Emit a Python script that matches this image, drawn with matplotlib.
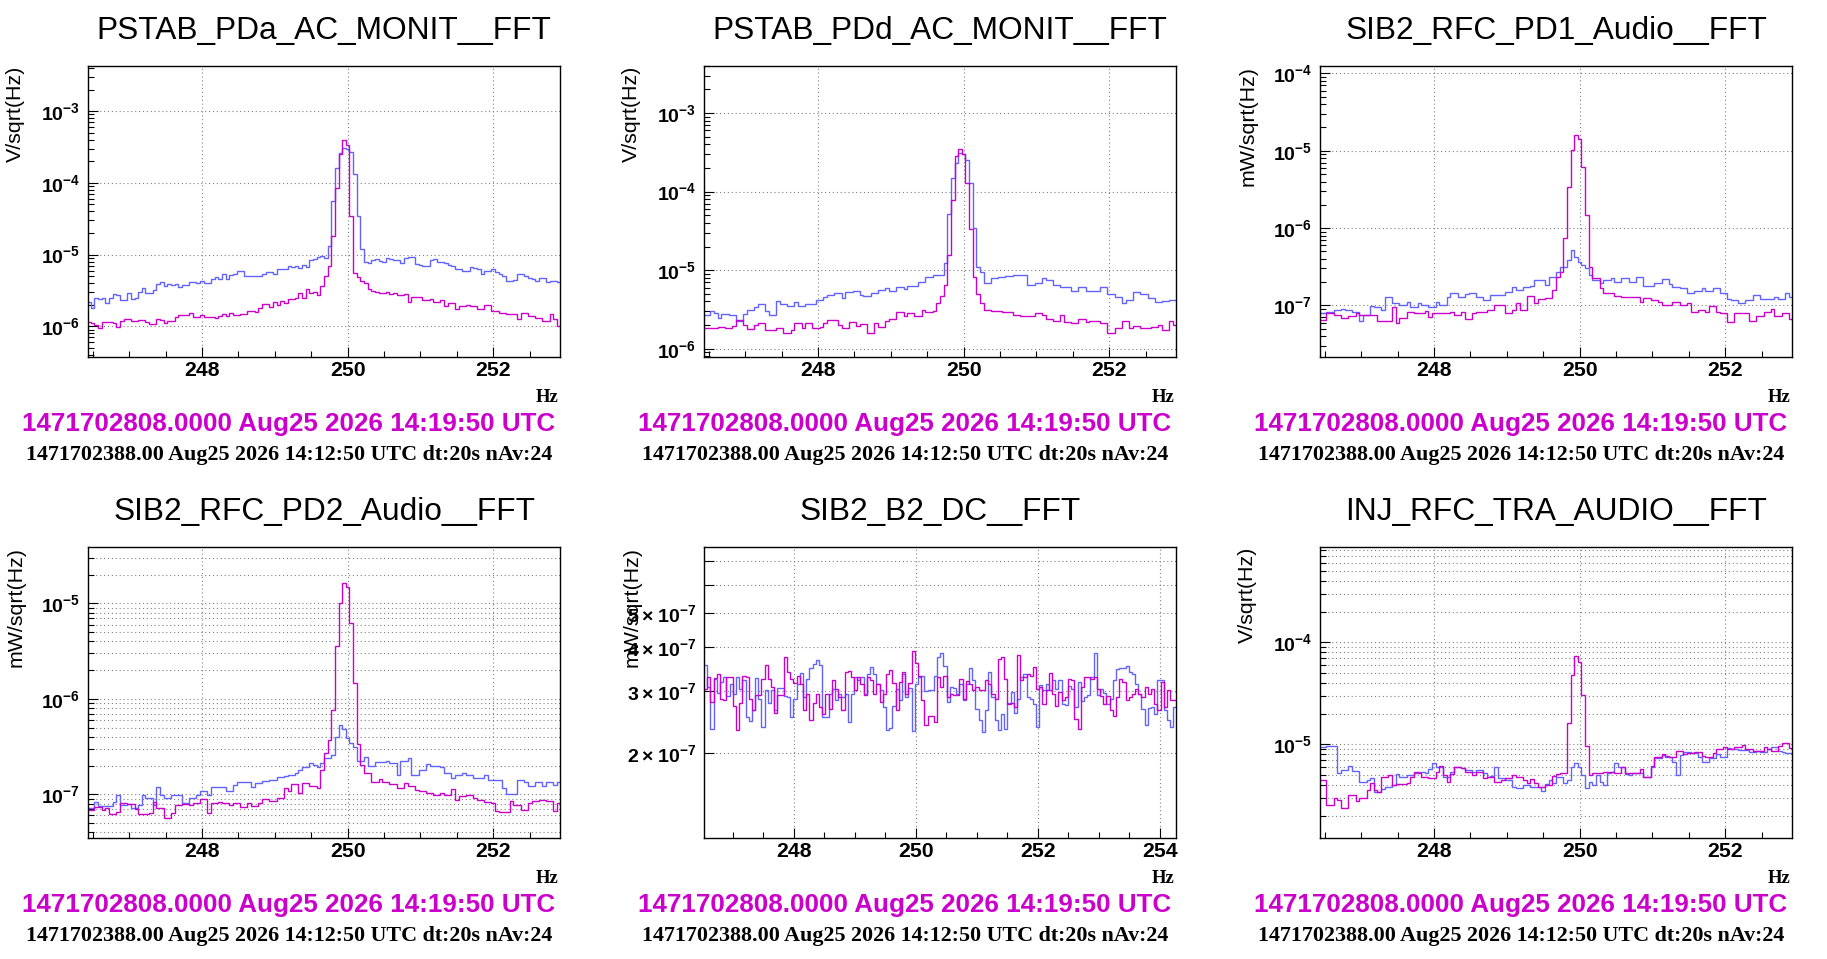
import numpy as np
import matplotlib
matplotlib.use("Agg")
import matplotlib.pyplot as plt
from matplotlib import ticker

plt.rcParams["font.family"] = ["Liberation Sans", "DejaVu Sans"]
plt.rcParams["font.weight"] = "bold"      # tick labels are bold in the reference
plt.rcParams["axes.unicode_minus"] = True

# ---------------------------------------------------------------------------
# data: one value per 0.05 Hz bin
# blue = reference spectrum, magenta = current spectrum
# ---------------------------------------------------------------------------
# PSTAB_PDa_AC_MONIT  (x 1e-6 V/sqrt(Hz))
pda_blue = [
    2.2, 1.8, 2.5, 2.4, 2.5, 2.1, 2.5, 2.8, 2.7, 2.3,
    2.3, 2.9, 2.4, 2.5, 3.0, 3.4, 2.9, 2.9, 3.2, 3.9,
    4.2, 3.7, 3.9, 3.8, 3.9, 3.5, 3.8, 3.8, 4.1, 4.1,
    4.0, 4.3, 4.0, 4.0, 4.6, 4.9, 4.6, 5.3, 4.5, 5.2,
    5.4, 5.9, 5.9, 5.0, 5.0, 5.1, 5.1, 5.1, 5.4, 5.7,
    5.7, 5.4, 6.2, 6.4, 6.3, 6.9, 6.7, 7.0, 6.6, 7.2,
    6.8, 8.5, 8.8, 9.2, 9.5, 9.0, 13, 55, 160, 260,
    310, 300, 270, 135, 35, 12, 8.0, 7.6, 8.5, 8.6,
    8.2, 8.0, 9.0, 8.8, 8.5, 8.4, 7.6, 9.0, 9.2, 9.4,
    7.4, 7.2, 7.0, 7.0, 8.5, 8.6, 8.0, 7.8, 7.6, 7.2,
    6.9, 6.4, 6.2, 6.0, 6.0, 6.8, 6.6, 6.3, 5.3, 5.9,
    5.9, 6.2, 5.8, 5.3, 5.0, 4.3, 4.3, 4.4, 5.3, 5.3,
    5.1, 4.7, 4.6, 4.3, 4.7, 4.7, 4.1, 4.3, 4.3, 4.2,
]
pda_mag = [
    1.15, 1.1, 1.05, 0.95, 1.15, 1.15, 1.15, 1.1, 0.98, 1.2,
    1.25, 1.27, 1.2, 1.2, 1.23, 1.23, 1.16, 1.08, 1.08, 1.27,
    1.23, 1.12, 1.2, 1.2, 1.37, 1.44, 1.44, 1.44, 1.52, 1.35,
    1.35, 1.43, 1.33, 1.33, 1.35, 1.3, 1.39, 1.48, 1.41, 1.52,
    1.44, 1.44, 1.48, 1.5, 1.62, 1.62, 1.58, 1.78, 2.05, 2.05,
    1.87, 2.2, 2.0, 2.25, 2.1, 2.4, 2.4, 2.5, 2.9, 2.5,
    3.3, 2.9, 3.0, 2.7, 3.6, 5.0, 7.0, 18, 85, 250,
    390, 340, 35, 5.5, 4.9, 4.3, 4.0, 3.3, 3.1, 3.0,
    2.9, 2.9, 3.0, 2.8, 2.9, 2.75, 2.75, 2.8, 2.2, 2.6,
    2.6, 2.6, 2.3, 2.3, 2.4, 2.2, 2.2, 2.3, 1.9, 2.1,
    2.1, 1.75, 1.95, 1.95, 2.0, 1.9, 1.9, 1.75, 1.75, 2.0,
    2.0, 1.65, 1.65, 1.55, 1.55, 1.5, 1.5, 1.5, 1.25, 1.55,
    1.55, 1.4, 1.4, 1.3, 1.3, 1.2, 1.2, 1.5, 1.25, 1.0,
]

# PSTAB_PDd_AC_MONIT  (x 1e-6 V/sqrt(Hz))
pdd_blue = [
    2.7, 2.7, 3.05, 2.85, 2.45, 2.8, 2.8, 2.7, 2.7, 2.25,
    2.25, 2.8, 3.1, 3.1, 3.4, 3.7, 3.7, 3.0, 2.7, 2.7,
    4.0, 3.7, 3.7, 3.5, 3.5, 3.9, 3.5, 3.5, 3.7, 3.7,
    3.7, 4.2, 4.2, 4.5, 4.9, 4.9, 5.1, 5.1, 4.4, 5.3,
    5.3, 5.5, 5.5, 4.9, 4.7, 4.7, 5.2, 5.2, 5.6, 5.6,
    5.9, 5.5, 5.5, 6.1, 6.1, 5.85, 6.3, 6.3, 6.3, 7.0,
    7.0, 8.3, 8.3, 8.7, 8.7, 8.7, 12.3, 52, 150, 230,
    310, 300, 250, 130, 34, 11, 9.6, 6.8, 6.8, 7.9,
    7.9, 8.3, 8.3, 8.4, 8.4, 8.6, 8.6, 8.6, 8.6, 6.5,
    6.5, 6.8, 6.8, 7.9, 7.5, 7.5, 6.5, 6.5, 6.1, 6.1,
    6.1, 5.4, 5.4, 6.2, 6.2, 5.45, 5.45, 5.45, 5.45, 6.1,
    6.1, 5.0, 5.0, 4.6, 4.6, 3.8, 4.2, 4.2, 5.3, 5.3,
    5.0, 5.0, 4.4, 4.4, 3.9, 3.9, 4.0, 4.0, 4.2, 4.2,
]
pdd_mag = [
    1.83, 1.83, 1.83, 1.83, 1.88, 1.88, 1.83, 1.83, 1.96, 2.3,
    2.3, 2.0, 1.78, 1.78, 2.0, 2.15, 2.15, 1.75, 1.75, 1.75,
    1.83, 1.83, 1.58, 1.6, 1.74, 2.15, 2.15, 1.83, 2.1, 2.1,
    1.83, 1.83, 1.92, 2.1, 2.3, 2.3, 2.3, 2.0, 1.83, 1.83,
    2.2, 2.2, 1.96, 2.06, 2.06, 1.61, 1.61, 2.16, 1.88, 1.88,
    2.29, 2.38, 2.38, 2.98, 2.98, 2.63, 2.84, 2.84, 2.58, 2.58,
    3.13, 2.98, 2.98, 3.07, 3.88, 4.7, 6.5, 15.7, 78, 280,
    350, 300, 130, 33, 8.3, 5.0, 3.8, 3.1, 3.1, 3.07,
    3.07, 3.07, 2.98, 2.98, 2.98, 2.7, 2.7, 2.58, 2.58, 2.58,
    2.58, 2.84, 2.84, 2.7, 2.38, 2.38, 2.29, 2.29, 2.7, 2.22,
    2.22, 2.16, 2.16, 2.38, 2.38, 2.22, 2.29, 2.29, 2.29, 2.16,
    2.16, 1.58, 1.58, 1.83, 1.83, 2.29, 2.29, 1.83, 1.96, 1.96,
    1.83, 1.83, 1.83, 1.88, 1.88, 2.02, 1.74, 1.74, 2.29, 2.0,
]

# SIB2_RFC_PD1_Audio  (x 1e-7 mW/sqrt(Hz))
pd1_blue = [
    0.79, 0.79, 0.83, 0.83, 0.87, 0.87, 0.91, 0.87, 0.87, 0.83,
    0.83, 0.63, 0.75, 0.75, 0.98, 0.94, 0.94, 0.87, 1.29, 1.29,
    1.08, 1.08, 1.01, 1.01, 1.12, 0.96, 0.96, 1.06, 1.01, 1.01,
    0.94, 0.94, 1.12, 1.01, 1.01, 1.27, 1.46, 1.46, 1.29, 1.29,
    1.4, 1.43, 1.43, 1.29, 1.29, 1.17, 1.17, 1.36, 1.36, 1.36,
    1.36, 1.5, 1.5, 1.71, 1.58, 1.58, 1.71, 1.71, 1.78, 2.13,
    2.13, 2.13, 1.83, 2.35, 2.35, 2.72, 3.16, 3.16, 3.85, 5.2,
    4.26, 3.67, 3.3, 3.0, 2.47, 2.13, 2.13, 1.92, 2.13, 2.13,
    2.23, 2.02, 2.02, 2.23, 2.23, 2.02, 2.02, 2.35, 2.35, 1.78,
    1.78, 1.78, 1.92, 1.92, 2.17, 2.17, 1.89, 1.74, 1.74, 1.66,
    1.66, 1.43, 1.43, 1.55, 1.55, 1.66, 1.55, 1.55, 1.66, 1.66,
    1.46, 1.46, 1.2, 1.17, 1.17, 1.08, 1.08, 1.17, 1.17, 1.36,
    1.36, 1.2, 1.2, 1.2, 1.2, 1.29, 1.2, 1.2, 1.43, 1.27,
]
pd1_mag = [
    0.65, 0.65, 0.79, 0.79, 0.75, 0.75, 0.68, 0.68, 0.73, 0.73,
    0.79, 0.75, 0.75, 0.75, 0.75, 0.75, 0.63, 0.63, 0.63, 0.63,
    0.94, 0.6, 0.68, 0.68, 0.83, 0.83, 0.8, 0.8, 0.8, 0.85,
    0.71, 0.79, 0.79, 0.79, 0.79, 0.79, 0.83, 0.75, 0.75, 0.83,
    0.66, 0.66, 0.8, 0.83, 0.83, 0.83, 0.87, 0.87, 1.01, 1.01,
    1.01, 0.79, 0.79, 0.87, 1.06, 0.87, 0.87, 1.32, 1.32, 1.06,
    1.2, 1.2, 1.26, 1.26, 1.58, 2.35, 2.72, 7.4, 34, 101,
    159, 140, 62, 14.7, 3.16, 2.23, 2.23, 1.66, 1.43, 1.43,
    1.46, 1.32, 1.32, 1.27, 1.27, 1.27, 1.27, 1.27, 1.12, 1.26,
    1.26, 1.17, 1.17, 1.12, 1.01, 1.01, 1.01, 1.12, 1.12, 1.01,
    1.01, 1.06, 0.83, 0.83, 0.87, 0.87, 0.83, 0.98, 0.98, 0.83,
    0.79, 0.79, 0.61, 0.61, 0.8, 0.79, 0.79, 0.79, 0.63, 0.63,
    0.73, 0.73, 0.83, 0.83, 0.91, 0.73, 0.73, 0.8, 0.8, 0.66,
]

# SIB2_RFC_PD2_Audio  (x 1e-7 mW/sqrt(Hz))
pd2_blue = [
    0.71, 0.71, 0.84, 0.75, 0.75, 0.75, 0.75, 0.84, 0.98, 0.77,
    0.77, 0.79, 0.71, 0.71, 0.77, 0.98, 0.91, 0.91, 0.77, 1.18,
    0.98, 0.91, 0.91, 0.98, 0.98, 0.98, 0.82, 0.82, 0.91, 0.91,
    0.98, 1.07, 1.07, 0.98, 1.2, 1.2, 1.18, 1.18, 1.07, 1.07,
    1.25, 1.36, 1.36, 1.36, 1.36, 1.2, 1.32, 1.32, 1.38, 1.38,
    1.41, 1.41, 1.51, 1.51, 1.56, 1.59, 1.59, 1.69, 1.8, 1.92,
    1.92, 2.15, 2.03, 1.92, 2.15, 2.38, 2.38, 2.58, 4.0, 5.3,
    4.8, 3.86, 3.42, 3.16, 2.25, 2.25, 2.48, 1.98, 1.98, 2.2,
    2.2, 2.2, 2.25, 2.11, 2.11, 1.59, 2.25, 2.25, 2.38, 1.59,
    1.59, 1.8, 1.8, 2.08, 1.98, 1.98, 1.98, 1.95, 1.66, 1.66,
    1.47, 1.59, 1.59, 1.66, 1.59, 1.59, 1.47, 1.47, 1.47, 1.59,
    1.41, 1.41, 1.41, 1.41, 1.16, 1.0, 1.0, 1.0, 1.41, 1.41,
    1.36, 1.22, 1.22, 1.36, 1.36, 1.22, 1.36, 1.36, 1.25, 1.36,
]
pd2_mag = [
    0.69, 0.69, 0.73, 0.73, 0.69, 0.71, 0.62, 0.62, 0.66, 0.82,
    0.82, 0.79, 0.79, 0.70, 0.62, 0.62, 0.62, 0.63, 0.84, 0.71,
    0.71, 0.57, 0.57, 0.63, 0.77, 0.77, 0.79, 0.79, 0.77, 0.82,
    0.82, 0.89, 0.89, 0.63, 0.82, 0.82, 0.84, 0.81, 0.81, 0.77,
    0.82, 0.82, 0.73, 0.73, 0.82, 0.75, 0.75, 0.82, 0.89, 0.89,
    0.86, 0.86, 0.91, 0.91, 1.16, 1.07, 1.28, 1.28, 1.02, 1.3,
    1.3, 1.22, 1.22, 1.16, 1.8, 2.73, 3.7, 7.6, 36, 101,
    162, 147, 63, 14.5, 3.4, 2.03, 1.66, 1.66, 1.36, 1.36,
    1.44, 1.36, 1.36, 1.28, 1.28, 1.16, 1.16, 1.3, 1.22, 1.22,
    1.11, 1.07, 1.07, 1.04, 1.04, 0.98, 0.98, 1.02, 0.98, 0.98,
    1.13, 0.87, 0.96, 0.96, 0.98, 0.98, 0.91, 0.87, 0.87, 0.84,
    0.84, 0.81, 0.67, 0.66, 0.66, 0.66, 0.86, 0.77, 0.77, 0.69,
    0.69, 0.81, 0.86, 0.86, 0.87, 0.87, 0.86, 0.86, 0.67, 0.81,
]

# SIB2_B2_DC  (x 1e-7 mW/sqrt(Hz))
b2dc_blue = [
    3.56, 3.09, 2.35, 3.26, 2.97, 3.19, 3.29, 2.90, 3.14, 2.95,
    3.29, 3.05, 3.22, 2.53, 2.47, 2.65, 3.27, 2.86, 2.37, 3.02,
    2.77, 3.02, 2.65, 3.07, 3.07, 2.90, 2.89, 2.53, 2.86, 3.15,
    3.38, 2.89, 3.26, 3.48, 3.59, 3.69, 3.56, 2.53, 2.53, 2.95,
    3.05, 2.83, 2.95, 2.89, 2.95, 2.46, 2.95, 3.29, 3.22, 3.29,
    2.95, 3.36, 3.52, 3.36, 3.15, 3.03, 2.70, 2.33, 2.36, 2.73,
    3.05, 2.83, 3.36, 2.89, 3.07, 2.32, 3.14, 3.30, 3.32, 3.00,
    3.02, 3.02, 3.32, 3.76, 3.86, 3.54, 2.79, 3.09, 3.07, 2.95,
    3.15, 2.83, 3.15, 3.48, 3.22, 2.68, 2.49, 2.30, 2.65, 3.40,
    2.89, 2.49, 2.33, 2.59, 2.35, 2.77, 2.99, 2.61, 2.86, 3.29,
    3.36, 2.89, 2.86, 2.76, 2.37, 3.12, 3.02, 3.15, 3.02, 3.22,
    3.05, 3.22, 2.76, 2.75, 3.10, 3.05, 2.70, 3.19, 2.81, 2.89,
    2.92, 3.29, 3.84, 2.92, 3.05, 2.97, 2.76, 2.86, 3.22, 3.46,
    3.50, 3.50, 3.54, 3.40, 3.36, 3.15, 2.95, 2.68, 2.40, 2.69,
    2.70, 2.59, 3.22, 3.22, 2.65, 2.48, 2.37, 2.71,
]
b2dc_mag = [
    3.05, 3.29, 2.79, 3.27, 3.35, 2.86, 2.83, 3.30, 3.30, 2.73,
    2.33, 2.77, 3.32, 3.29, 2.86, 2.65, 2.92, 2.92, 3.26, 3.56,
    3.24, 3.09, 2.60, 2.92, 2.92, 3.76, 3.40, 3.24, 3.17, 3.32,
    3.15, 2.65, 2.95, 2.49, 2.77, 2.95, 2.70, 2.59, 2.95, 2.68,
    3.22, 3.05, 2.89, 2.65, 3.40, 3.42, 3.30, 3.02, 3.30, 3.15,
    2.92, 3.30, 3.22, 2.95, 3.15, 2.79, 2.95, 3.36, 3.44, 3.17,
    2.65, 3.19, 3.40, 2.95, 3.17, 3.90, 3.61, 3.32, 2.83, 2.40,
    2.56, 2.56, 2.46, 3.30, 3.09, 3.32, 2.89, 2.95, 2.92, 2.92,
    3.26, 2.86, 3.20, 3.15, 3.02, 3.09, 3.03, 3.03, 3.22, 3.15,
    2.95, 2.86, 3.71, 3.76, 3.24, 2.76, 2.77, 2.70, 3.80, 3.22,
    3.29, 3.36, 3.32, 3.52, 3.05, 3.09, 2.76, 3.03, 3.38, 2.95,
    2.73, 2.99, 2.83, 2.89, 3.26, 3.22, 2.51, 2.35, 3.09, 3.29,
    3.29, 3.24, 3.29, 3.05, 2.90, 2.76, 2.90, 2.65, 2.56, 2.89,
    3.24, 3.19, 2.83, 2.89, 2.95, 3.05, 2.95, 2.89, 3.09, 2.95,
    3.05, 2.76, 2.65, 3.19, 2.70, 3.02, 2.83, 2.84,
]

# INJ_RFC_TRA_AUDIO  (x 1e-6 V/sqrt(Hz))
tra_blue = [
    9.5, 9.5, 9.6, 9.6, 9.6, 5.27, 5.6, 5.6, 6.13, 5.52,
    5.52, 4.31, 4.31, 4.47, 4.71, 3.43, 3.43, 3.62, 3.85, 3.85,
    4.0, 5.12, 4.75, 4.75, 5.0, 5.0, 5.2, 5.4, 5.4, 5.27,
    5.7, 6.6, 5.95, 6.04, 4.82, 4.82, 5.4, 5.95, 5.95, 5.82,
    5.6, 5.6, 5.4, 5.6, 5.6, 5.27, 4.82, 4.9, 6.04, 4.64,
    4.64, 4.47, 4.47, 3.79, 3.7, 3.7, 4.0, 4.0, 3.85, 3.85,
    3.85, 3.52, 4.09, 4.47, 4.21, 4.82, 4.82, 4.15, 4.47, 6.04,
    6.5, 5.95, 5.0, 3.7, 4.31, 4.0, 5.0, 4.31, 4.0, 5.2,
    5.4, 6.5, 6.04, 6.04, 5.12, 5.0, 5.27, 5.27, 5.27, 4.75,
    4.75, 6.04, 7.3, 7.3, 7.86, 7.57, 7.57, 6.76, 5.0, 7.86,
    8.47, 8.47, 8.16, 8.16, 7.57, 6.76, 6.76, 7.3, 7.3, 8.04,
    7.57, 7.57, 9.3, 9.1, 9.1, 8.8, 8.8, 8.8, 8.47, 8.47,
    8.67, 8.47, 8.47, 9.1, 9.5, 9.5, 8.67, 8.47, 8.3, 8.3,
]
tra_mag = [
    4.47, 4.47, 2.54, 2.54, 2.96, 2.85, 2.36, 2.36, 3.18, 3.18,
    2.8, 2.96, 2.96, 3.56, 4.15, 3.56, 3.43, 4.82, 4.82, 5.0,
    4.0, 4.09, 4.09, 4.09, 4.21, 4.82, 5.4, 5.2, 4.75, 4.75,
    4.64, 4.64, 5.4, 6.13, 5.0, 4.31, 5.12, 6.04, 6.04, 5.82,
    5.4, 5.4, 5.0, 5.4, 5.4, 4.64, 4.82, 4.82, 4.31, 4.31,
    4.47, 4.64, 4.64, 5.0, 4.82, 4.82, 4.47, 4.15, 4.54, 4.15,
    3.85, 3.79, 4.0, 4.0, 4.9, 5.08, 5.2, 5.2, 16.3, 48,
    73, 65, 30.5, 9.6, 5.0, 5.2, 5.27, 5.27, 5.4, 5.4,
    5.4, 5.2, 5.2, 5.95, 5.27, 5.2, 5.2, 5.2, 5.7, 4.82,
    4.82, 6.13, 7.57, 7.57, 8.04, 7.7, 7.57, 7.57, 8.67, 8.67,
    8.04, 8.3, 8.3, 8.47, 8.47, 7.7, 7.45, 7.45, 8.16, 8.93,
    8.93, 9.5, 8.93, 8.93, 9.5, 9.5, 9.85, 8.93, 8.93, 8.67,
    8.67, 8.67, 9.5, 8.93, 8.67, 8.67, 9.6, 10.4, 10.4, 9.14,
]

titles = ["PSTAB_PDa_AC_MONIT__FFT", "PSTAB_PDd_AC_MONIT__FFT", "SIB2_RFC_PD1_Audio__FFT",
          "SIB2_RFC_PD2_Audio__FFT", "SIB2_B2_DC__FFT", "INJ_RFC_TRA_AUDIO__FFT"]
ylabels = ["V/sqrt(Hz)", "V/sqrt(Hz)", "mW/sqrt(Hz)", "mW/sqrt(Hz)", "mW/sqrt(Hz)", "V/sqrt(Hz)"]
units = [1e-6, 1e-6, 1e-7, 1e-7, 1e-7, 1e-6]
freq_spans = [(246.425, 252.925)] * 4 + [(246.525, 254.275)] + [(246.425, 252.925)]
ylims = [(3.7e-7, 4.3e-3), (7.8e-7, 4.0e-3), (2.13e-8, 1.26e-4),
         (3.46e-8, 3.92e-5), (1.15e-7, 7.7e-7), (1.2e-6, 8.7e-4)]
b2dc_yticks = [2e-7, 3e-7, 4e-7, 5e-7, 6e-7, 7e-7]
b2dc_ylabels = [r"$\mathdefault{2\times10^{-7}}$", r"$\mathdefault{3\times10^{-7}}$",
                r"$\mathdefault{4\times10^{-7}}$", r"$\mathdefault{5\times10^{-7}}$", "", ""]

now_stamp = "1471702808.0000 Aug25 2026 14:19:50 UTC"
ref_stamp = "1471702388.00 Aug25 2026 14:12:50 UTC dt:20s nAv:24"

blue_series = [pda_blue, pdd_blue, pd1_blue, pd2_blue, b2dc_blue, tra_blue]
mag_series = [pda_mag, pdd_mag, pd1_mag, pd2_mag, b2dc_mag, tra_mag]

BLUE = "#6262ff"
MAGENTA = "#cc00cc"
GRID = dict(color="#808080", linestyle=(0, (1, 2.5)), linewidth=0.8)

# layout in pixels of the 1827x959 canvas
W, H = 1827, 959
COL_X = [88.3, 704.3, 1320.3]
ROW_TOP = [65.7, 546.7]
AX_W, AX_H = 472.0, 291.6

fig = plt.figure(figsize=(W / 100, H / 100), dpi=100)


def fx(px):
    return px / W


def fy(py):
    return 1 - py / H


for i in range(6):
    r, c = divmod(i, 3)
    left, top = COL_X[c], ROW_TOP[r]
    bottom = top + AX_H
    right = left + AX_W
    ax = fig.add_axes([fx(left), fy(bottom), AX_W / W, AX_H / H])

    vals = np.asarray(blue_series[i]) * units[i]
    mvals = np.asarray(mag_series[i]) * units[i]
    edges = np.linspace(freq_spans[i][0], freq_spans[i][1], len(vals) + 1)
    ax.stairs(vals, edges, baseline=None, color=BLUE, lw=1.0)
    ax.stairs(mvals, edges, baseline=None, color=MAGENTA, lw=1.0)

    ax.set_yscale("log")
    if i == 4:
        ax.set_xlim(246.53, 254.27)
    else:
        ax.set_xlim(246.44, 252.92)
    ax.set_ylim(*ylims[i])

    ax.xaxis.set_major_locator(ticker.MultipleLocator(2))
    ax.xaxis.set_minor_locator(ticker.MultipleLocator(0.5))
    if i == 4:
        ax.yaxis.set_major_locator(ticker.FixedLocator(b2dc_yticks))
        ax.yaxis.set_major_formatter(ticker.FixedFormatter(b2dc_ylabels))
        ax.yaxis.set_minor_locator(ticker.NullLocator())
    else:
        ax.yaxis.set_major_locator(ticker.LogLocator(base=10, numticks=20))
        ax.yaxis.set_minor_locator(ticker.LogLocator(base=10, subs=np.arange(2, 10), numticks=20))
        ax.yaxis.set_minor_formatter(ticker.NullFormatter())

    ax.tick_params(which="both", direction="in", top=False, right=False, width=0.8)
    ax.tick_params(which="major", length=7.0)
    ax.tick_params(which="minor", length=4)
    ax.tick_params(axis="x", which="major", labelsize=15.3, pad=2.5)
    ax.tick_params(axis="y", which="major", labelsize=14, pad=6)
    for s in ax.spines.values():
        s.set_linewidth(1.0)

    ax.grid(which="major", axis="both", **GRID)
    if i in (3, 5):
        ax.grid(which="minor", axis="y", **GRID)
    ax.set_axisbelow(True)

    # annotations around the pad
    cx = (left + right) / 2
    fig.text(fx(cx), fy(top - 26.4), titles[i], ha="center", va="baseline",
             fontsize=22.8, fontweight="normal", family="Liberation Sans")
    fig.text(fx(left - 72.6), fy(top), ylabels[i], rotation=90, ha="center", va="top",
             fontsize=15.4, fontweight="normal", family="Liberation Sans")
    fig.text(fx(right - 2), fy(bottom + 44.4), "Hz", ha="right", va="baseline",
             fontsize=13.5, fontweight="bold", family="Liberation Serif")
    fig.text(fx(right - 5), fy(bottom + 73.4), now_stamp, ha="right", va="baseline",
             fontsize=18.7, fontweight="bold", color=MAGENTA, family="Liberation Sans")
    fig.text(fx(right - 7.6), fy(bottom + 102.7), ref_stamp, ha="right", va="baseline",
             fontsize=15.8, fontweight="bold", family="Liberation Serif")

fig.savefig("out.png", dpi=100)
